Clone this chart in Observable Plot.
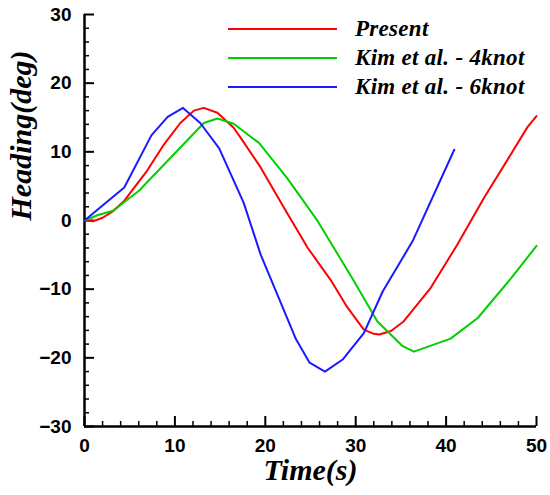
<!DOCTYPE html>
<html>
<head>
<meta charset="utf-8">
<script src="https://cdn.jsdelivr.net/npm/d3@7"></script>
<script src="https://cdn.jsdelivr.net/npm/@observablehq/plot@0.6"></script>
<style>
  body { margin: 0; background: #fff; }
  #wrap { position: relative; width: 550px; height: 495px; }
  #legend { position: absolute; left: 228px; top: 14.5px; font-family: "Liberation Serif", serif; font-weight: bold; font-style: italic; font-size: 23px; letter-spacing: 0.3px; color: #000; }
  .row { display: flex; align-items: center; height: 29px; }
  .sw { width: 109px; height: 2px; margin-right: 18px; }
</style>
</head>
<body>
<div id="wrap"><div id="legend"></div></div>
<script>
const seriesNames = ["Present", "Kim et al. - 4knot", "Kim et al. - 6knot"];
const seriesColors = ["#ff0000", "#00d000", "#1a1aff"];

const presentT = [0, 1, 2, 3, 4.35, 5.5, 6.9, 8.8, 10.6, 12.1, 13.2, 14.7, 16.5, 17.3, 19.5, 22.1, 24.7, 27.2, 29.1, 30.9, 32.0, 32.6, 33.9, 35.3, 38.3, 41.25, 44.2, 47.15, 49, 50];
const presentH = [0, -0.1, 0.4, 1.2, 2.8, 4.8, 7.2, 11.1, 14.2, 16.0, 16.4, 15.7, 13.5, 12.0, 7.7, 1.8, -4.0, -8.6, -12.7, -15.9, -16.5, -16.6, -16.1, -14.7, -9.8, -3.5, 3.3, 9.6, 13.6, 15.2];

const kim4T = [0, 1.5, 3.25, 4.5, 6.0, 13.2, 14.7, 16.5, 19.3, 22.4, 25.8, 29.8, 32.4, 35.2, 36.45, 40.5, 43.5, 47.2, 50];
const kim4H = [0, 0.8, 1.45, 2.8, 4.3, 14.2, 14.85, 14.1, 11.3, 6.2, -0.1, -8.8, -14.7, -18.3, -19.1, -17.2, -14.2, -8.4, -3.7];

const kim6T = [0, 4.4, 7.4, 9.2, 10.9, 12.8, 14.9, 17.6, 19.5, 23.4, 24.9, 26.6, 28.6, 30.9, 33.0, 36.3, 40.9];
const kim6H = [0, 4.8, 12.4, 15.1, 16.4, 14.2, 10.5, 2.6, -5.0, -17.3, -20.7, -22.0, -20.2, -16.4, -10.3, -3.0, 10.3];

const xTicks = [0, 10, 20, 30, 40, 50];
const xMinor = [2, 4, 6, 8, 12, 14, 16, 18, 22, 24, 26, 28, 32, 34, 36, 38, 42, 44, 46, 48];
const yTicks = [-30, -20, -10, 0, 10, 20, 30];
const yMinor = [-28, -26, -24, -22, -18, -16, -14, -12, -8, -6, -4, -2, 2, 4, 6, 8, 12, 14, 16, 18, 22, 24, 26, 28];

const xLabel = "Time(s)";
const yLabel = "Heading(deg)";

const toRows = (T, H, s) => T.map((t, i) => ({t, h: H[i], s}));
const data = [
  ...toRows(presentT, presentH, seriesNames[0]),
  ...toRows(kim4T, kim4H, seriesNames[1]),
  ...toRows(kim6T, kim6H, seriesNames[2])
];

const titleFont = {fontFamily: "Liberation Serif", fontWeight: "bold", fontStyle: "italic", fontSize: 30, fill: "#000"};

const chart = Plot.plot({
  width: 550,
  height: 495,
  marginLeft: 84,
  marginRight: 14,
  marginTop: 14,
  marginBottom: 69,
  style: {fontFamily: "Liberation Sans", fontWeight: "bold", fontSize: "19px", color: "#000", background: "#fff"},
  x: {domain: [0, 50]},
  y: {domain: [-30, 30]},
  color: {domain: seriesNames, range: seriesColors},
  marks: [
    Plot.axisX(xTicks, {tickSize: 0, tickPadding: 12, label: null}),
    Plot.axisY(yTicks, {tickSize: 0, tickPadding: 13, label: null}),
    Plot.axisX(xTicks, {tickSize: -10, strokeWidth: 2, tickFormat: () => "", label: null}),
    Plot.axisX(xMinor, {tickSize: -5, strokeWidth: 1.5, tickFormat: () => "", label: null}),
    Plot.axisY(yTicks, {tickSize: -10, strokeWidth: 2, tickFormat: () => "", label: null}),
    Plot.axisY(yMinor, {tickSize: -5, strokeWidth: 1.5, tickFormat: () => "", label: null}),
    Plot.ruleX([0], {strokeWidth: 2.5}),
    Plot.ruleY([-30], {strokeWidth: 2.5}),
    Plot.line(data, {x: "t", y: "h", z: "s", stroke: "s", strokeWidth: 2}),
    Plot.text([xLabel], {frameAnchor: "bottom", dy: 53, text: d => d, ...titleFont}),
    Plot.text([yLabel], {frameAnchor: "left", dx: -63, rotate: -90, text: d => d, ...titleFont})
  ]
});

const wrap = document.getElementById("wrap");
wrap.insertBefore(chart, wrap.firstChild);

const legend = document.getElementById("legend");
seriesNames.forEach((name, i) => {
  const row = document.createElement("div");
  row.className = "row";
  const sw = document.createElement("div");
  sw.className = "sw";
  sw.style.background = seriesColors[i];
  const label = document.createElement("span");
  label.textContent = name;
  row.appendChild(sw);
  row.appendChild(label);
  legend.appendChild(row);
});
</script>
</body>
</html>
